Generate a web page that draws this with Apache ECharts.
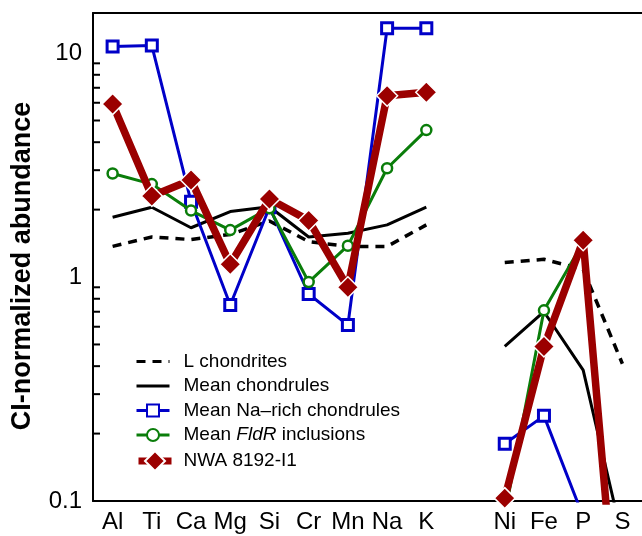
<!DOCTYPE html>
<html>
<head>
<meta charset="utf-8">
<script src="https://cdn.jsdelivr.net/npm/echarts@6/dist/echarts.min.js"></script>
<style>html,body{margin:0;padding:0;background:#fff}#c{width:642px;height:536px}</style>
</head>
<body>
<div id="c"></div>
<script>
const categories = ['Al','Ti','Ca','Mg','Si','Cr','Mn','Na','K','','Ni','Fe','P','S'];
const lChondrites    = [1.37, 1.51, 1.47, 1.55, 1.78, 1.44, 1.37, 1.37, 1.71, null, 1.16, 1.20, 1.08, 0.41];
const meanChondrules = [1.85, 2.05, 1.66, 1.96, 2.06, 1.51, 1.57, 1.71, 2.05, null, 0.49, 0.70, 0.384, 0.068];
const naRich         = [10.7, 10.8, 2.17, 0.75, 2.05, 0.84, 0.61, 12.9, 12.9, null, 0.18, 0.24, 0.085, null];
const fldR           = [2.90, 2.60, 1.98, 1.62, 2.03, 0.95, 1.38, 3.06, 4.53, null, 0.087, 0.71, 1.43, null];
const nwa            = [5.92, 2.30, 2.71, 1.14, 2.23, 1.79, 0.90, 6.45, 6.68, null, 0.103, 0.49, 1.46, 0.014];
const majorLabels = [0.1, 1, 10];
const minorTicks = [0.2,0.3,0.4,0.5,0.6,0.7,0.8,0.9,2,3,4,5,6,7,8,9];

const FONT = '"Liberation Sans", Arial, Helvetica, sans-serif';
const BLUE = '#0000c8', GREEN = '#0a7d0a', RED = '#9b0000';

const legendText = {fontFamily: FONT, fontSize: 19, color: '#000', padding: [0,0,0,9],
  rich: {i: {fontStyle: 'italic', fontFamily: FONT, fontSize: 19, color: '#000'}}};

const chart = echarts.init(document.getElementById('c'), null, {renderer: 'canvas'});
chart.setOption({
  animation: false,
  grid: {left: 93, right: 0, top: 13, bottom: 35, outerBoundsMode: 'none', containLabel: false},
  legend: [{
    orient: 'vertical', left: 130, top: 347,
    itemWidth: 33, itemHeight: 15, itemGap: 5.5,
    lineStyle: {width: 3},
    data: [
      {name: 'L chondrites', itemStyle: {opacity: 0}},
      {name: 'Mean chondrules', itemStyle: {opacity: 0}},
      'Mean Na–rich chondrules',
      'Mean FldR inclusions'
    ],
    textStyle: legendText,
    formatter: function (n) { return n === 'Mean FldR inclusions' ? 'Mean {i|FldR} inclusions' : n; }
  }, {
    orient: 'vertical', left: 130, top: 445,
    itemWidth: 33, itemHeight: 25,
    lineStyle: {width: 7},
    data: ['NWA 8192-I1'],
    textStyle: {fontFamily: FONT, fontSize: 19, color: '#000', padding: [0,0,0,7]}
  }],
  xAxis: [{
    type: 'category', data: categories, boundaryGap: true,
    axisLine: {lineStyle: {color: '#000', width: 2}},
    axisTick: {inside: true, alignWithLabel: true, length: 10, lineStyle: {color: '#000', width: 1.5}},
    axisLabel: {color: '#000', fontFamily: FONT, fontSize: 24, margin: 9, interval: 0},
    splitLine: {show: false}
  }, {
    type: 'category', data: categories, position: 'top',
    axisLine: {lineStyle: {color: '#000', width: 2}},
    axisTick: {show: false}, axisLabel: {show: false}, splitLine: {show: false}
  }],
  yAxis: {
    type: 'log', logBase: 10, min: 0.1, max: 15.1,
    name: 'CI-normalized abundance', nameLocation: 'middle', nameGap: 57,
    nameTextStyle: {fontFamily: FONT, fontWeight: 'bold', fontSize: 27, color: '#000', padding: [0, 18, 0, 0]},
    axisLine: {show: true, lineStyle: {color: '#000', width: 2}},
    axisTick: {inside: true, length: 9, lineStyle: {color: '#000', width: 1.5}},
    axisLabel: {color: '#000', fontFamily: FONT, fontSize: 24, margin: 11,
      formatter: function (v) {
        for (const m of majorLabels) { if (Math.abs(v - m) / m < 1e-6) return String(m); }
        return '';
      }},
    splitLine: {show: false}
  },
  series: [
    {name: 'L chondrites', type: 'line', data: lChondrites, symbol: 'none', z: 2,
     lineStyle: {color: '#000', width: 3.5, type: [9, 7]}, itemStyle: {color: '#000'}},
    {name: 'Mean chondrules', type: 'line', data: meanChondrules, symbol: 'none', z: 3,
     lineStyle: {color: '#000', width: 3}, itemStyle: {color: '#000'}},
    {name: 'Mean Na–rich chondrules', type: 'line', data: naRich, symbol: 'rect', symbolSize: 11, z: 4,
     lineStyle: {color: BLUE, width: 3}, itemStyle: {color: '#fff', borderColor: BLUE, borderWidth: 3}},
    {name: 'Mean FldR inclusions', type: 'line', data: fldR, symbol: 'circle', symbolSize: 10, z: 5,
     lineStyle: {color: GREEN, width: 3}, itemStyle: {color: '#fff', borderColor: GREEN, borderWidth: 2.5}},
    {name: 'NWA 8192-I1', type: 'line', data: nwa, symbol: 'diamond', symbolSize: 21, z: 6,
     lineStyle: {color: RED, width: 7.5}, itemStyle: {color: RED, borderColor: '#fff', borderWidth: 1.5}},
    {name: 'minor', type: 'custom', z: 10, silent: true,
     data: minorTicks.map(v => [0, v]),
     renderItem: function (params, api) {
       const p = api.coord([0, api.value(1)]);
       const x0 = params.coordSys.x;
       return {type: 'line', shape: {x1: x0, y1: p[1], x2: x0 + 7, y2: p[1]},
               style: {stroke: '#000', lineWidth: 2}};
     }}
  ]
});
</script>
</body>
</html>
